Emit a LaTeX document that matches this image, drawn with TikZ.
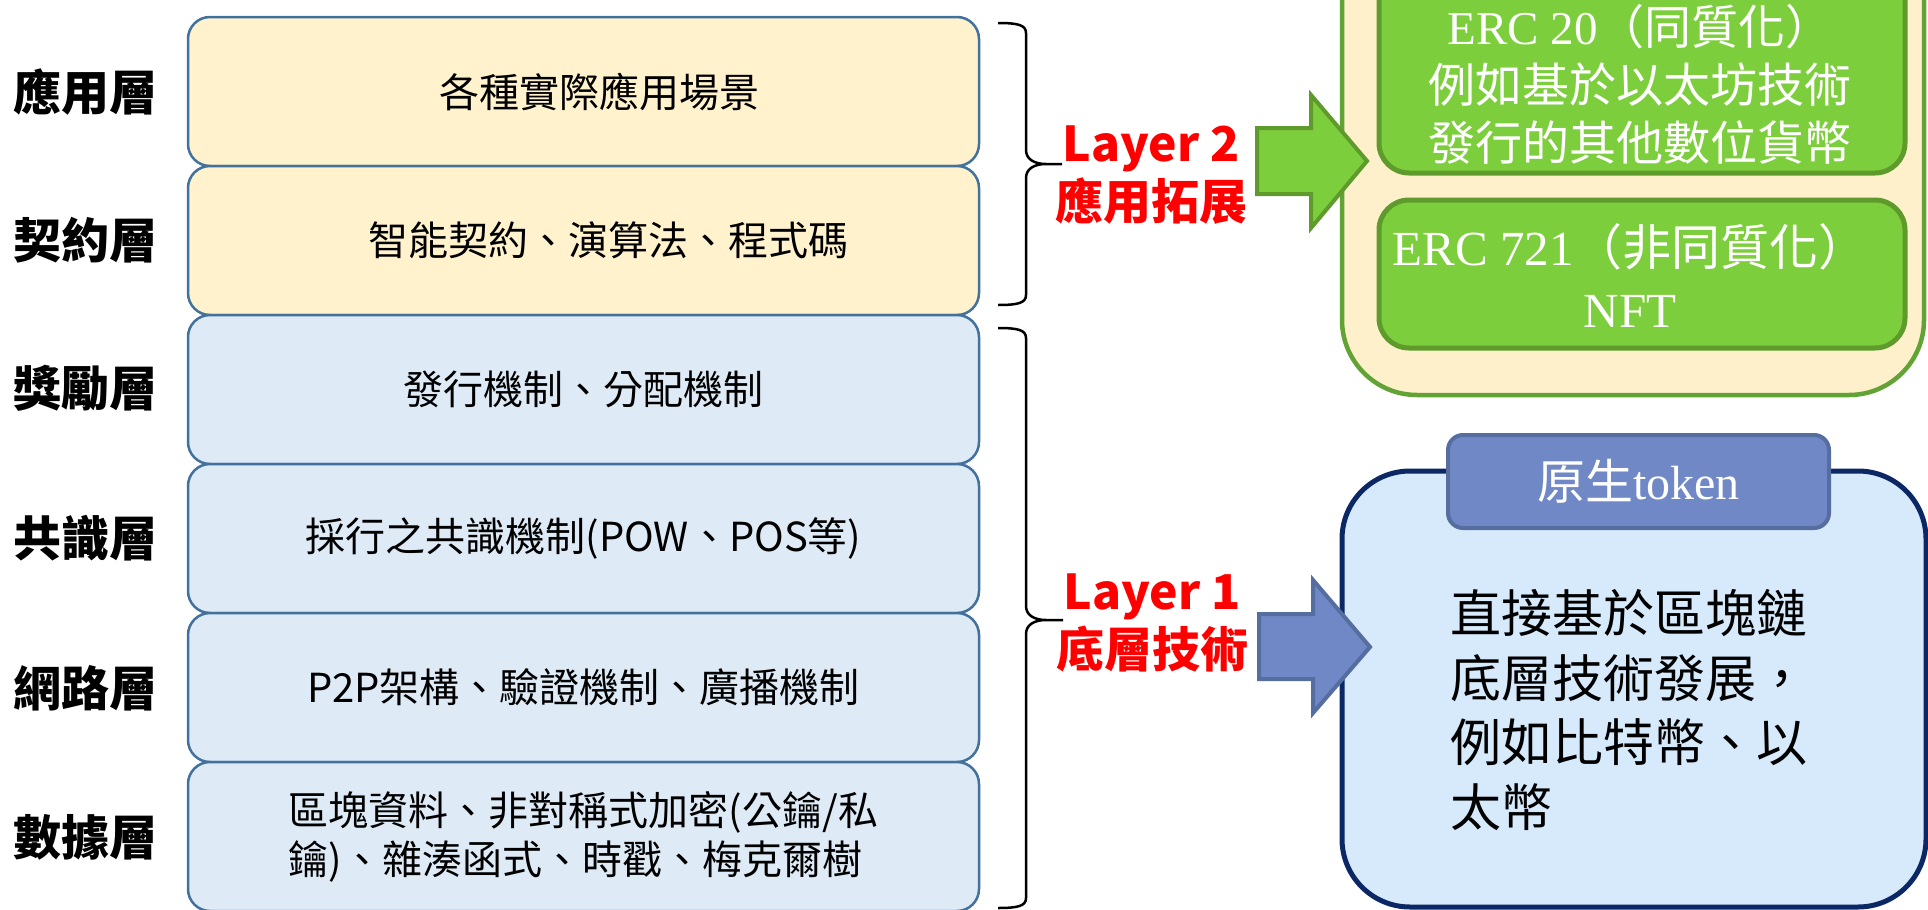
\documentclass[tikz,border=0pt]{standalone}
\usepackage{fontspec}
\setmainfont{Liberation Serif}
\newfontfamily\cjk{Noto Sans CJK TC}
\definecolor{boxline}{HTML}{41719C}
\definecolor{yfill}{HTML}{FFF2CC}
\definecolor{bfill}{HTML}{DEEBF7}
\definecolor{gfill}{HTML}{7DCE3C}
\definecolor{gline}{HTML}{5E9A2C}
\definecolor{gouter}{HTML}{62A336}
\definecolor{cfill}{HTML}{FFF0CC}
\definecolor{afill}{HTML}{7089C6}
\definecolor{aline}{HTML}{566DA0}
\definecolor{nfill}{HTML}{D6EAFC}
\definecolor{nline}{HTML}{0B2865}
\definecolor{redtxt}{HTML}{FF0000}
\begin{document}
\begin{tikzpicture}[x=1pt,y=-1pt,
  layerbox/.style={draw=boxline,line width=2.5pt,rounded corners=22pt,minimum width=791pt,minimum height=149pt,inner sep=0pt,font=\cjk\fontsize{40}{49}\selectfont,text=black},
  ybox/.style={layerbox,fill=yfill},
  bbox/.style={layerbox,fill=bfill},
  sidelabel/.style={font=\cjk\bfseries\fontsize{48}{56}\selectfont,text=black,inner sep=0pt},
  redlabel/.style={font=\cjk\bfseries\fontsize{48}{58}\selectfont,text=redtxt,align=center,inner sep=0pt},
  brace/.style={draw=black,line width=2.5pt},
  wtext/.style={text=white,align=center,inner sep=0pt,font=\fontsize{47}{58}\selectfont}
]
\useasboundingbox (0,0) rectangle (1928,910);
\clip (0,0) rectangle (1928,910);

% left stack
\node[ybox] (b1) at (583.5,91.5) {\hspace*{32pt}各種實際應用場景};
\node[ybox] (b2) at (583.5,240.5) {\hspace*{50pt}智能契約、演算法、程式碼};
\node[bbox] (b3) at (583.5,389.5) {發行機制、分配機制};
\node[bbox] (b4) at (583.5,538.5) {採行之共識機制(POW、POS等)};
\node[bbox] (b5) at (583.5,687.5) {P2P架構、驗證機制、廣播機制};
\node[bbox,align=left] (b6) at (583.5,836.5) {區塊資料、非對稱式加密(公鑰/私\\鑰)、雜湊函式、時戳、梅克爾樹};

\node[sidelabel] (l1) at (85,92) {應用層};
\node[sidelabel] (l2) at (85,240) {契約層};
\node[sidelabel] (l3) at (85,388) {獎勵層};
\node[sidelabel] (l4) at (85,538) {共識層};
\node[sidelabel] (l5) at (85,688) {網路層};
\node[sidelabel] (l6) at (85,837) {數據層};

% braces
\draw[brace] (998,23) .. controls (1018,23) and (1026,25) .. (1026,33) -- (1026,150)
  .. controls (1026,159) and (1034,164) .. (1046,164) -- (1062,164)
  (1046,164) .. controls (1034,164) and (1026,169) .. (1026,178) -- (1026,295)
  .. controls (1026,303) and (1018,305) .. (998,305);
\draw[brace] (998,328) .. controls (1018,328) and (1026,330) .. (1026,338) -- (1026,606)
  .. controls (1026,615) and (1034,620) .. (1046,620) -- (1063,620)
  (1046,620) .. controls (1034,620) and (1026,625) .. (1026,634) -- (1026,898)
  .. controls (1026,906) and (1018,908) .. (998,908);

\node[redlabel] (lay2) at (1151,175) {Layer 2\\應用拓展};
\node[redlabel] (lay1) at (1152,623) {Layer 1\\底層技術};

% top-right container
\draw[draw=gouter,fill=cfill,line width=4.5pt,rounded corners=75pt] (1342,-90) rectangle (1924,395);
\draw[draw=gline,fill=gfill,line width=5pt,rounded corners=30pt] (1379,-40) rectangle (1905,173);
\draw[draw=gline,fill=gfill,line width=5pt,rounded corners=30pt] (1379,200) rectangle (1905,348);
\node[wtext] (erc20) at (1640,84) {ERC 20{\cjk （同質化）}\\{\cjk 例如基於以太坊技術}\\{\cjk 發行的其他數位貨幣}};
\node[wtext,font=\fontsize{49}{62}\selectfont] (erc721) at (1630,276) {ERC 721{\cjk （非同質化）}\\NFT};

% bottom-right box
\draw[draw=nline,fill=nfill,line width=5pt,rounded corners=68pt] (1342,471) rectangle (1926,907);
\node[draw=aline,fill=afill,line width=4pt,rounded corners=15pt,minimum width=381pt,minimum height=93pt,inner sep=0pt,text=white,font=\fontsize{48}{56}\selectfont] (tab) at (1638.5,481.5) {{\cjk 原生}token};
\node[anchor=west,align=left,inner sep=0pt,text=black,font=\cjk\fontsize{51}{64.5}\selectfont] (native) at (1450,710) {直接基於區塊鏈\\底層技術發展，\\例如比特幣、以\\太幣};

% block arrows
\draw[draw=gline,fill=gfill,line width=4pt,line join=miter] (1257,128) -- (1311,128) -- (1311,95) -- (1367,161) -- (1311,228) -- (1311,194) -- (1257,194) -- cycle;
\draw[draw=aline,fill=afill,line width=4pt,line join=miter] (1259,614) -- (1313,614) -- (1313,580) -- (1370,647) -- (1313,713) -- (1313,679) -- (1259,679) -- cycle;
\end{tikzpicture}
\end{document}
